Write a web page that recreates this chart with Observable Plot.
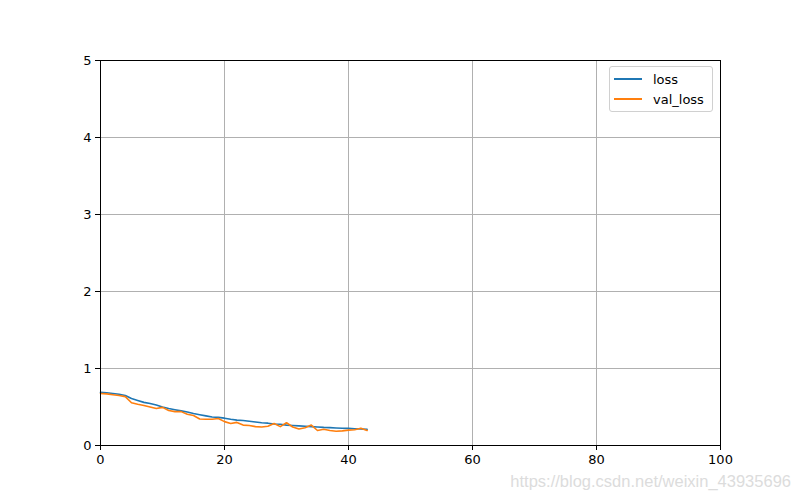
<!DOCTYPE html>
<html>
<head>
<meta charset="utf-8">
<script src="https://cdn.jsdelivr.net/npm/d3@7"></script>
<script src="https://cdn.jsdelivr.net/npm/@observablehq/plot@0.6"></script>
<style>
  html, body { margin: 0; padding: 0; background: #fff; }
  #wrap { position: relative; width: 800px; height: 500px; font-family: "DejaVu Sans", sans-serif; overflow: hidden; }
  #legend { position: absolute; left: 609px; top: 66px; width: 104px; height: 46px; box-sizing: border-box;
    border: 1px solid #d0d0d0; border-radius: 3px; background: rgba(255,255,255,0.8); font-size: 13px; color: #000; }
  .row { position: absolute; left: 0; height: 18px; display: flex; align-items: center; white-space: nowrap; }
  .sw { display: inline-block; width: 28px; height: 2px; margin-left: 4px; margin-right: 11px; }
  #wm { position: absolute; right: 9px; top: 472px; font-size: 16.5px; color: #dcdcdc; white-space: nowrap;
    font-family: "Liberation Sans", Arial, sans-serif; }
</style>
</head>
<body>
<div id="wrap"></div>
<script>
const epochs = d3.range(0, 44);
const loss = [0.69,0.685,0.675,0.665,0.65,0.61,0.585,0.56,0.545,0.525,0.50,0.48,0.465,0.45,0.435,0.415,0.40,0.385,0.37,0.365,0.355,0.34,0.33,0.325,0.315,0.305,0.295,0.29,0.28,0.275,0.265,0.26,0.255,0.25,0.245,0.24,0.235,0.232,0.228,0.225,0.222,0.218,0.215,0.21];
const valLoss = [0.675,0.67,0.66,0.65,0.635,0.555,0.535,0.52,0.50,0.48,0.495,0.455,0.44,0.44,0.405,0.39,0.345,0.34,0.34,0.35,0.31,0.285,0.30,0.265,0.26,0.245,0.24,0.25,0.285,0.245,0.295,0.24,0.215,0.23,0.265,0.195,0.21,0.195,0.185,0.19,0.2,0.205,0.225,0.195];
const seriesNames = ["loss", "val_loss"];
const seriesColors = ["#1f77b4", "#ff7f0e"];
const xTicks = [0, 20, 40, 60, 80, 100];
const yTicks = [0, 1, 2, 3, 4, 5];

const rows = [];
epochs.forEach((e, i) => {
  rows.push({epoch: e, value: loss[i], series: "loss"});
  rows.push({epoch: e, value: valLoss[i], series: "val_loss"});
});

const chart = Plot.plot({
  width: 800,
  height: 500,
  marginLeft: 100,
  marginRight: 80,
  marginTop: 60,
  marginBottom: 55,
  style: {fontFamily: "DejaVu Sans, sans-serif", fontSize: "13px", background: "white", color: "black"},
  x: {domain: [0, 100], label: null},
  y: {domain: [0, 5], label: null},
  color: {domain: seriesNames, range: seriesColors},
  marks: [
    Plot.gridX(xTicks, {stroke: "#b0b0b0", strokeOpacity: 1, strokeWidth: 1}),
    Plot.gridY(yTicks, {stroke: "#b0b0b0", strokeOpacity: 1, strokeWidth: 1}),
    Plot.line(rows, {x: "epoch", y: "value", z: "series", stroke: "series", strokeWidth: 1.6}),
    Plot.frame({stroke: "black", strokeWidth: 1}),
    Plot.axisX(xTicks, {tickSize: 5, tickPadding: 4, fontSize: 13, stroke: "black", tickFormat: d3.format("d")}),
    Plot.axisY(yTicks, {tickSize: 5, tickPadding: 4, fontSize: 13, stroke: "black", tickFormat: d3.format("d")})
  ]
});

const wrap = document.getElementById("wrap");
wrap.appendChild(chart);

const legend = document.createElement("div");
legend.id = "legend";
seriesNames.forEach((name, i) => {
  const row = document.createElement("div");
  row.className = "row";
  row.style.top = (3 + i * 20) + "px";
  const sw = document.createElement("span");
  sw.className = "sw";
  sw.style.background = seriesColors[i];
  const t = document.createElement("span");
  t.textContent = name;
  row.appendChild(sw);
  row.appendChild(t);
  legend.appendChild(row);
});
wrap.appendChild(legend);

const wm = document.createElement("div");
wm.id = "wm";
wm.textContent = "https://blog.csdn.net/weixin_43935696";
wrap.appendChild(wm);
</script>
</body>
</html>
